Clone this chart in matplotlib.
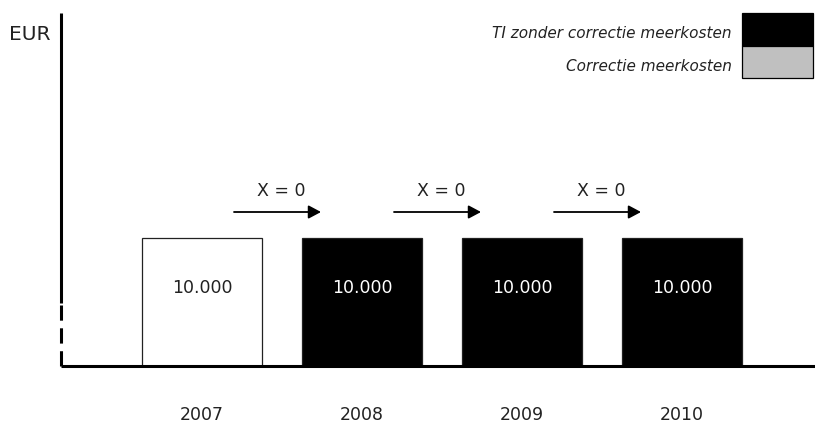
import matplotlib.pyplot as plt
from matplotlib.patches import Rectangle

# data
years = ['2007', '2008', '2009', '2010']
values = [10000, 10000, 10000, 10000]
bar_colors = ['white', 'black', 'black', 'black']
label_colors = ['#222222', 'white', 'white', 'white']
arrow_labels = ['X = 0', 'X = 0', 'X = 0']
legend_labels = ['TI zonder correctie meerkosten', 'Correctie meerkosten']
legend_colors = ['black', '#c0c0c0']

W, H = 815, 425
fig = plt.figure(figsize=(W / 100, H / 100), dpi=100)
# axes box in pixels: y-axis at x=61, x-axis at y=366, top at y=13
ax = fig.add_axes([61 / W, (H - 366) / H, (W - 61) / W, (366 - 13) / H])
ax.set_xlim(-141 / 160, 613 / 160)
ax.set_ylim(0, 10000 * 353 / 128)
ax.axis('off')

px = 10000 / 128  # data units per pixel in y

x = list(range(len(years)))
ax.bar(x, values, width=0.75, color=bar_colors, edgecolor='#222222', linewidth=0.9, zorder=2)

for xi, v, c in zip(x, values, label_colors):
    ax.text(xi, (366 - 288) * px, f'{v:,}'.replace(',', '.'), ha='center', va='center',
            color=c, fontsize=12.5, zorder=3)
    ax.text(xi, (366 - 415) * px, years[xi], ha='center', va='center',
            fontsize=12.5, color='#222222', clip_on=False)

# arrows between years
for i, lab in enumerate(arrow_labels):
    x0 = i + (234 - 202) / 160
    x1 = i + (321 - 202) / 160
    ya = (366 - 212) * px
    ax.annotate('', xy=(x1, ya), xytext=(x0, ya),
                arrowprops=dict(arrowstyle='-|>,head_length=0.75,head_width=0.4',
                                color='black', lw=1.3, mutation_scale=10,
                                shrinkA=0, shrinkB=0))
    ax.text(i + (281 - 202) / 160, (366 - 191) * px, lab, ha='center',
            va='center', fontsize=12.5, color='#222222')

# axis lines
ax.plot([0, 1], [0, 0], transform=ax.transAxes, color='black', lw=2.2,
        clip_on=False, solid_capstyle='butt')
ax.plot([0, 0], [(366 - 303) / 353, 1], transform=ax.transAxes, color='black',
        lw=2.2, clip_on=False, solid_capstyle='butt')
ax.plot([0, 0], [0, (366 - 305) / 353], transform=ax.transAxes, color='black',
        lw=2.2, clip_on=False, dashes=(5, 2.5), dash_capstyle='butt')

fig.text(9 / W, 1 - 34 / H, 'EUR', ha='left', va='center', fontsize=14.5,
         color='#222222')

# legend boxes
for i, (lab, col) in enumerate(zip(legend_labels, legend_colors)):
    top = 13 + i * 32.5
    fig.patches.append(Rectangle((742 / W, 1 - (top + 32.5) / H), 71 / W, 32.5 / H,
                                 transform=fig.transFigure, facecolor=col,
                                 edgecolor='black', linewidth=0.9))
    fig.text(732 / W, 1 - (top + 21) / H, lab, ha='right', va='center',
             fontsize=11, style='italic', color='#222222')

fig.savefig('out.png', dpi=100)
